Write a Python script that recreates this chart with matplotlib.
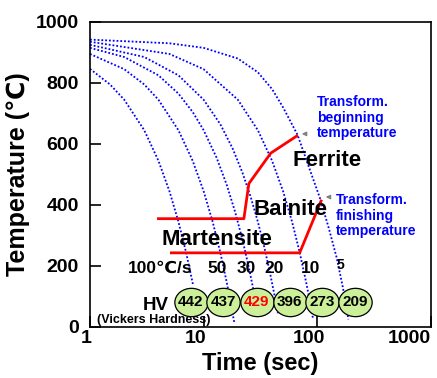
import numpy as np
import matplotlib
matplotlib.use('Agg')
import matplotlib.pyplot as plt
from matplotlib.path import Path
from matplotlib.transforms import Affine2D, ScaledTranslation

plt.rcParams['font.family'] = ['Liberation Sans', 'DejaVu Sans']

# cooling curves (time in s, temperature in C)
rates = ['100', '50', '30', '20', '10', '5']
t_100 = [1, 1.5, 2, 3, 4, 5, 6, 7, 8.1]
T_100 = [846, 795, 745, 645, 545, 445, 345, 245, 135]
t_50 = [1, 2, 3, 4, 6, 8, 10, 12, 14, 16, 18.6]
T_50 = [895, 845, 795, 745, 645, 545, 445, 345, 245, 145, 15]
t_30 = [1, 2, 4, 6, 8, 10, 13, 16, 19, 22, 25, 28]
T_30 = [915, 885, 825, 765, 705, 645, 555, 465, 375, 285, 195, 105]
t_20 = [1, 3, 6, 10, 14, 18, 22, 26, 30, 34, 38, 42, 45]
T_20 = [925, 885, 825, 745, 665, 585, 505, 425, 345, 265, 185, 105, 45]
t_10 = [1, 5, 10, 20, 30, 40, 50, 60, 70, 80, 86, 92]
T_10 = [935, 895, 845, 745, 645, 545, 445, 345, 245, 145, 85, 25]
t_5 = [1, 5, 10, 20, 30, 40, 50, 67, 90, 105, 125, 148, 168, 188]
T_5 = [942, 930, 915, 880, 835, 780, 720, 630, 495, 425, 330, 228, 130, 25]

# transformation lines
start_t = [4.0, 22.6, 25.0, 39, 66]
start_T = [355, 355, 470, 570, 626]
finish_t = [5.2, 70, 108]
finish_T = [243, 243, 413]

# Vickers hardness
hv_values = ['442', '437', '429', '396', '273', '209']
hv_colors = ['black', 'black', 'red', 'black', 'black', 'black']
hv_t = [7.7, 14.8, 29.4, 57.4, 110, 214]
hv_T = 82

# rate label positions
rate_t = [None, 13.2, 23.5, 41.8, 88, 159]

fig = plt.figure(figsize=(4.37, 3.78), dpi=100)
ax = fig.add_axes([0.206, 0.135, 0.780, 0.807])

blue = '#0000ff'
for t, T in [(t_100, T_100), (t_50, T_50), (t_30, T_30),
             (t_20, T_20), (t_10, T_10), (t_5, T_5)]:
    ax.plot(t, T, color=blue, lw=1.3, ls=(0, (1, 1.1)), zorder=2)

ax.plot(start_t, start_T, color='red', lw=2, zorder=3)
ax.plot(finish_t, finish_T, color='red', lw=2, zorder=3)

# ellipses with HV values
ell = Path.unit_circle().transformed(Affine2D().scale(1, 0.85))
ax.plot(hv_t, [hv_T] * len(hv_t), ls='none', marker=ell, markersize=24,
        markerfacecolor='#ccf09a', markeredgecolor='black',
        markeredgewidth=0.9, zorder=4)
for t, v, c in zip(hv_t, hv_values, hv_colors):
    ax.text(t, hv_T, v, ha='center', va='center', fontsize=11,
            fontweight='bold', color=c, zorder=5)

# rate labels
ax.text(2.16, 177, '100\u2103/s', ha='left', va='baseline', fontsize=12.5,
        fontweight='bold')
for t, r in zip(rate_t[1:-1], rates[1:-1]):
    ax.text(t, 177, r, ha='center', va='baseline', fontsize=12.5,
            fontweight='bold')
ax.text(rate_t[-1], 190, rates[-1], ha='center', va='baseline', fontsize=10,
        fontweight='bold')

ax.text(2.93, 56, 'HV', ha='left', va='baseline', fontsize=13.5,
        fontweight='bold')
ax.text(1.15, 13, '(Vickers Hardness)', ha='left', va='baseline',
        fontsize=9, fontweight='bold', zorder=6)

# phase names
ax.text(61, 528, 'Ferrite', fontsize=16, fontweight='bold', va='baseline')
ax.text(27.7, 367, 'Bainite', fontsize=16, fontweight='bold', va='baseline')
ax.text(4.22, 269, 'Martensite', fontsize=16, fontweight='bold',
        va='baseline')

# transformation notes
ax.text(99, 759, 'Transform.\nbeginning\ntemperature', color=blue,
        fontsize=10, fontweight='bold', va='top', ha='left', linespacing=1.12)
ax.text(146, 438, 'Transform.\nfinishing\ntemperature', color=blue,
        fontsize=10, fontweight='bold', va='top', ha='left', linespacing=1.12)
ax.annotate('', xy=(69, 633), xytext=(85, 633),
            arrowprops=dict(arrowstyle='-|>', color='gray', lw=1,
                            mutation_scale=6))
ax.annotate('', xy=(112, 426), xytext=(138, 426),
            arrowprops=dict(arrowstyle='-|>', color='gray', lw=1,
                            mutation_scale=6))

ax.set_xscale('log')
ax.set_xlim(1, 1000)
ax.set_ylim(0, 1000)
ax.set_xticks([1, 10, 100, 1000])
ax.set_xticklabels(['1', '10', '100', '1000'], fontsize=14, fontweight='bold')
ax.minorticks_off()
ax.set_yticks([0, 200, 400, 600, 800, 1000])
ax.set_yticklabels(['0', '200', '400', '600', '800', '1000'], fontsize=14,
                   fontweight='bold')
ax.tick_params(axis='both', direction='in', length=8, width=1.2)
ax.tick_params(axis='y', pad=8)
ax.tick_params(axis='x', pad=2)
x_shift_px = [-4, -8, -8, 0]
xlabs = ax.get_xticklabels()
for lab, dx in zip(xlabs, x_shift_px):
    lab.set_transform(lab.get_transform()
                      + ScaledTranslation(dx / 100, 0, fig.dpi_scale_trans))
xlabs[-1].set_horizontalalignment('right')
for s in ax.spines.values():
    s.set_linewidth(1.2)

ax.set_ylabel('Temperature (\u2103)', fontsize=18, fontweight='bold',
              labelpad=4)
ax.set_xlabel('Time (sec)', fontsize=17, fontweight='bold', labelpad=4)

fig.savefig('out.png', dpi=100)
